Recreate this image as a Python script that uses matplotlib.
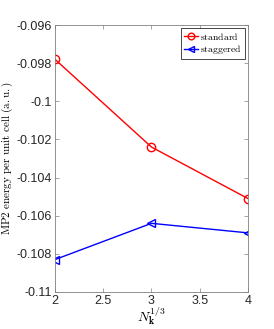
import matplotlib
matplotlib.use("Agg")
import matplotlib.pyplot as plt

# data
nk = [2, 3, 4]
standard = [-0.0978, -0.1024, -0.1051]
staggered = [-0.1083, -0.1064, -0.1069]

plt.rcParams['mathtext.fontset'] = 'cm'
plt.rcParams['font.family'] = 'Liberation Sans'

fig = plt.figure(figsize=(2.74, 3.29), dpi=100)
ax = fig.add_axes([0.2007, 0.1125, 0.7043, 0.8115])

ax.plot(nk, standard, '-o', color='red', lw=1, ms=6, mfc='none', mew=1,
        label=r'$\mathrm{standard}$')
ax.plot(nk, staggered, '-<', color='blue', lw=1, ms=6, mfc='none', mew=1,
        label=r'$\mathrm{staggered}$')

ax.set_xlim(2, 4)
ax.set_ylim(-0.11, -0.096)
ax.set_xticks([2, 2.5, 3, 3.5, 4])
ax.set_xticklabels(['2', '2.5', '3', '3.5', '4'])
yt = [-0.11, -0.108, -0.106, -0.104, -0.102, -0.1, -0.098, -0.096]
ax.set_yticks(yt)
ax.set_yticklabels(['-0.11', '-0.108', '-0.106', '-0.104', '-0.102', '-0.1', '-0.098', '-0.096'])
ax.tick_params(direction='in', top=True, right=True, labelsize=9, length=3,
               width=0.5, color='#808080', labelcolor='#262626', pad=2)
for s in ax.spines.values():
    s.set_color('#808080')
    s.set_linewidth(0.6)

ax.set_xlabel(r'$N_{\mathbf{k}}^{1/3}$', fontsize=10, labelpad=-1)
ax.set_ylabel(r'$\mathrm{MP2\ energy\ per\ unit\ cell\ (a.u.)}$', fontsize=8, labelpad=1)

leg = ax.legend(loc='upper right', fontsize=7, fancybox=False, framealpha=1,
                handlelength=1.5, handletextpad=0.2, borderpad=0.25,
                labelspacing=0.15, borderaxespad=0.35, markerscale=0.8)
leg.get_frame().set_edgecolor('black')
leg.get_frame().set_linewidth(0.5)

fig.savefig('out.png', dpi=100)
